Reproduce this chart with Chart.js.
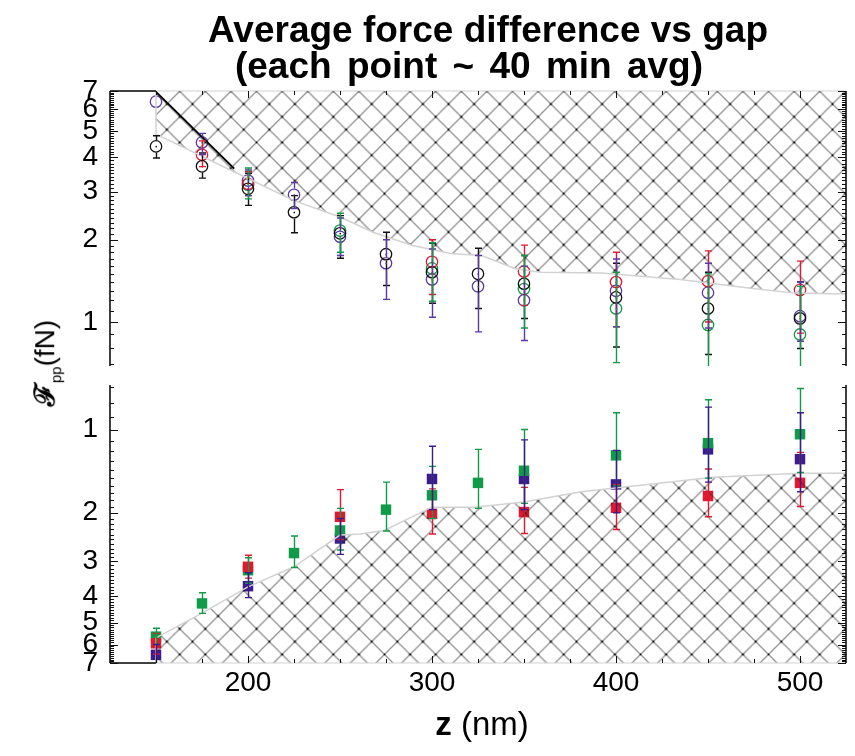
<!DOCTYPE html>
<html>
<head>
<meta charset="utf-8">
<script src="https://cdn.jsdelivr.net/npm/chart.js@4.4.1/dist/chart.umd.min.js"></script>
<style>
  html, body { margin: 0; padding: 0; background: #fff; }
  #wrap { position: relative; width: 855px; height: 756px; overflow: hidden; background: #fff; }
  canvas { position: absolute; left: 0; top: 0; }
  .lbl { position: absolute; white-space: pre; font-family: "Liberation Sans", Arial, sans-serif; color: #000; }
  .title { font-weight: bold; font-size: 37px; line-height: 37px; transform: translateX(-50%); }
  #ylab { left: 44px; top: 363px; font-size: 28px; transform: translate(-50%, -50%) rotate(-90deg); }
  #ylab sub { font-size: 15px; }
  #xlab { left: 482px; top: 724px; font-size: 33px; transform: translate(-50%, -50%); }
</style>
</head>
<body>
<div id="wrap">
  <canvas id="top" width="855" height="756"></canvas>
  <canvas id="bottom" width="855" height="756"></canvas>
  <div class="lbl title" style="left:488px; top:11px;">Average force difference vs gap</div>
  <div class="lbl title" style="left:469px; top:47px; word-spacing:5px;">(each point ~ 40 min avg)</div>
  <div class="lbl" id="ylab"><b>ℱ</b><sub>pp</sub>(fN)</div>
  <div class="lbl" id="xlab"><b>z</b> (nm)</div>
</div>
<script>
// gap z (nm) of every measurement
const gaps = [150, 175, 200, 225, 250, 275, 300, 325, 350, 400, 450, 500];

// upper panel, open circles (fN); Lo / Hi are the error bar ends
const topBlack   = [4.39, 3.71, 3.07, 2.52, 2.11, 1.77, 1.52, 1.50, 1.38, 1.23, 1.12, 1.03];
const topBlackLo = [3.98, 3.36, 2.67, 2.12, 1.71, 1.36, 1.17, 1.12, 1.03, 0.81, 0.76, 0.80];
const topBlackHi = [4.80, 4.15, 3.50, 2.90, 2.45, 2.13, 1.94, 1.86, 1.75, 1.64, 1.52, 1.40];

const topRed   = [null, 4.09, 3.20, null, null, null, 1.66, null, 1.53, 1.40, 1.41, 1.31];
const topRedLo = [null, 3.70, 2.90, null, null, null, 1.26, null, 1.15, 0.96, 1.00, 0.91];
const topRedHi = [null, 4.60, 3.55, null, null, null, 2.00, null, 1.91, 1.80, 1.82, 1.67];

const topPurple   = [6.40, 4.54, 3.29, 2.92, 2.05, 1.64, 1.43, 1.35, 1.20, 1.30, 1.28, 1.05];
const topPurpleLo = [null, 4.10, 2.90, 2.60, 1.75, 1.21, 1.04, 0.92, 0.855, 0.96, 0.95, 0.85];
const topPurpleHi = [null, 4.90, 3.60, 3.24, 2.40, 2.00, 1.85, 1.75, 1.60, 1.70, 1.64, 1.40];

const topGreen   = [null, null, 3.18, null, 2.16, null, 1.57, null, 1.32, 1.12, 0.975, 0.90];
const topGreenLo = [null, null, 2.82, null, 1.80, null, 1.19, null, 0.95, 0.71, 0.69, 0.69];
const topGreenHi = [null, null, 3.66, null, 2.50, null, 1.95, null, 1.75, 1.52, 1.50, 1.35];

// lower panel, filled squares (fN)
const botRed   = [5.94, null, 3.14, null, 2.07, null, 2.02, null, 1.99, 1.92, 1.74, 1.56];
const botRedLo = [5.47, null, 2.85, null, 1.65, null, 1.64, null, 1.62, 1.58, 1.39, 1.21];
const botRedHi = [6.50, null, 3.45, null, 2.50, null, 2.39, null, 2.38, 2.30, 2.07, 1.90];

const botGreen   = [5.62, 4.26, 3.23, 2.80, 2.32, 1.95, 1.73, 1.56, 1.41, 1.24, 1.12, 1.04];
const botGreenLo = [5.24, 3.90, 2.91, 2.43, 1.93, 1.55, 1.36, 1.18, 1.00, 0.87, 0.78, 0.71];
const botGreenHi = [6.00, 4.63, 3.60, 3.16, 2.73, 2.33, 2.10, 1.93, 1.85, 1.60, 1.50, 1.43];

const botPurple   = [6.54, null, 3.69, null, 2.48, null, 1.51, null, 1.51, 1.58, 1.18, 1.28];
const botPurpleLo = [6.00, null, 3.30, null, 2.10, null, 1.15, null, 1.09, 1.19, 0.83, 0.87];
const botPurpleHi = [7.00, null, 4.06, null, 2.83, null, 1.95, null, 1.95, 2.00, 1.55, 1.68];

// edges of the excluded (hatched) regions
const topEdgeX = [150, 150, 200, 225, 250, 268, 289, 310, 327, 345, 359, 392, 435, 472, 497, 525];
const topEdgeY = [7, 4.87, 3.35, 2.78, 2.42, 2.13, 1.91, 1.78, 1.75, 1.57, 1.52, 1.51, 1.43, 1.33, 1.275, 1.265];
const botEdgeX = [150, 150, 175, 200, 225, 250, 261, 274, 300, 323, 350, 381, 453, 500, 525];
const botEdgeY = [7, 5.68, 4.62, 3.71, 3.14, 2.41, 2.39, 2.32, 1.91, 1.91, 1.83, 1.68, 1.49, 1.44, 1.44];
const limitX = [150, 192.5];
const limitY = [6.95, 3.64];

// axes
const xMin = 125, xMax = 525;
const yMin = 0.69, yMax = 7;
const xLabels = [200, 300, 400, 500];
const yLabels = [1, 2, 3, 4, 5, 6, 7];
const xMinor = [150, 175, 200, 225, 250, 275, 300, 325, 350, 375, 400, 425, 450, 475, 500];
const yMinor = [];
for (let i = 7; i <= 70; i++) yMinor.push(i / 10);

const RED = "#e3182f", GREEN = "#119b48", PURPLE = "#5a38a6", DARKPURPLE = "#3c1c8c";
const tickFont = { family: "'Liberation Sans Narrow', 'Liberation Sans', Arial", size: 28 };

const pts = (xs, ys) => xs.map((x, i) => ({ x, y: ys[i] }));

function makeHatch(canvas) {
  const c = document.createElement("canvas");
  c.width = 128;
  c.height = 128;
  const g = c.getContext("2d");
  const s = 25.6;
  g.strokeStyle = "#2a2a2a";
  g.lineWidth = 0.95;
  for (let i = -5; i <= 10; i++) {
    g.beginPath(); g.moveTo(i * s, 0); g.lineTo(i * s + 128, 128); g.stroke();
    g.beginPath(); g.moveTo(i * s, 0); g.lineTo(i * s - 128, 128); g.stroke();
  }
  g.fillStyle = "#000";
  for (let i = 0; i <= 5; i++)
    for (let j = 0; j <= 5; j++) {
      g.fillRect(i * s - 1, j * s - 1, 2, 2);
      g.fillRect(i * s + s / 2 - 1, j * s + s / 2 - 1, 2, 2);
    }
  const p = canvas.getContext("2d").createPattern(c, "repeat");
  p.setTransform(new DOMMatrix([1, 0, 0, 1, 0.5, 14.4]));
  return p;
}

// error bars through the library's scales
const errorBars = {
  id: "errorBars",
  afterDatasetsDraw(chart) {
    const { ctx, chartArea: a, scales: { x, y } } = chart;
    ctx.save();
    ctx.beginPath();
    ctx.rect(a.left, a.top, a.right - a.left, a.bottom - a.top);
    ctx.clip();
    chart.data.datasets.forEach((ds) => {
      if (!ds.errLo) return;
      ctx.strokeStyle = ds.borderColor;
      ctx.lineWidth = 1.4;
      const gap = ds.pointStyle === "circle" ? ds.pointRadius + 0.5 : 0;
      ds.data.forEach((p, j) => {
        if (p.y == null || ds.errLo[j] == null) return;
        const px = Math.round(x.getPixelForValue(p.x)) + 0.5;
        const py = y.getPixelForValue(p.y);
        const e1 = y.getPixelForValue(Math.max(ds.errLo[j], yMin));
        const e2 = y.getPixelForValue(Math.min(ds.errHi[j], yMax));
        const up = Math.min(e1, e2), dn = Math.max(e1, e2);
        ctx.beginPath();
        ctx.moveTo(px, up); ctx.lineTo(px, py - gap);
        ctx.moveTo(px, py + gap); ctx.lineTo(px, dn);
        [[ds.errLo[j], e1], [ds.errHi[j], e2]].forEach(([v, e]) => {
          if (v <= yMin || v >= yMax) return;
          ctx.moveTo(px - 3.5, e); ctx.lineTo(px + 3.5, e);
        });
        ctx.stroke();
        if (gap) {
          ctx.fillStyle = ds.borderColor;
          ctx.fillRect(px - 1, py - 0.5, 1.5, 1.5);
        }
      });
    });
    ctx.restore();
  },
};

// axis frame with inward ticks on all sides
const frame = {
  id: "frame",
  afterDraw(chart, args, opts) {
    const { ctx, chartArea: a, scales: { x, y } } = chart;
    const ey = opts.edge === "top" ? a.top : a.bottom;
    const dir = opts.edge === "top" ? 1 : -1;
    const xs = x.getPixelForValue(150);
    ctx.save();
    ctx.lineWidth = 1.2;
    ctx.strokeStyle = "#d2d2d2";
    ctx.beginPath(); ctx.moveTo(xs, ey); ctx.lineTo(a.right, ey); ctx.stroke();
    ctx.strokeStyle = "#000";
    ctx.lineWidth = 1.5;
    ctx.beginPath(); ctx.moveTo(a.left, ey); ctx.lineTo(xs, ey); ctx.stroke();
    ctx.beginPath();
    ctx.moveTo(a.left, a.top); ctx.lineTo(a.left, a.bottom);
    ctx.moveTo(a.right, a.top); ctx.lineTo(a.right, a.bottom);
    ctx.stroke();
    ctx.lineWidth = 1;
    ctx.strokeStyle = "#111";
    ctx.beginPath();
    yMinor.forEach((v) => {
      const py = Math.round(y.getPixelForValue(v)) + 0.5;
      const len = Math.abs(v - Math.round(v)) < 1e-6 ? 8 : 4;
      ctx.moveTo(a.left, py); ctx.lineTo(a.left + len, py);
      ctx.moveTo(a.right, py); ctx.lineTo(a.right - len, py);
    });
    xMinor.forEach((v) => {
      const px = Math.round(x.getPixelForValue(v)) + 0.5;
      const len = v % 100 === 0 ? 7 : 4;
      ctx.moveTo(px, ey); ctx.lineTo(px, ey + dir * len);
    });
    ctx.stroke();
    ctx.restore();
  },
};

const circle = (label, color, ys, lo, hi) => ({
  type: "scatter", label, data: pts(gaps, ys), errLo: lo, errHi: hi,
  pointStyle: "circle", pointRadius: 5.7, borderWidth: 1.3,
  borderColor: color, backgroundColor: "rgba(0,0,0,0)", order: 2,
});
const square = (label, color, ys, lo, hi) => ({
  type: "scatter", label, data: pts(gaps, ys), errLo: lo, errHi: hi,
  pointStyle: "rect", pointRadius: 7.4, borderWidth: 0,
  borderColor: color, backgroundColor: color, order: 2,
});

const yScale = (reverse) => ({
  type: "logarithmic", min: yMin, max: yMax, reverse, bounds: "data",
  afterBuildTicks: (s) => { s.ticks = yLabels.map((value) => ({ value })); },
  afterFit: (s) => { s.width = 110; },
  ticks: { autoSkip: false, color: "#000", font: tickFont, padding: 4, callback: (v) => String(v) },
  grid: { display: false, drawTicks: true, tickLength: 8 },
  border: { display: false },
});

const common = {
  responsive: false,
  animation: false,
  events: [],
  devicePixelRatio: 1,
  plugins: { legend: { display: false }, tooltip: { enabled: false } },
};

const topCanvas = document.getElementById("top");
new Chart(topCanvas, {
  type: "scatter",
  data: {
    datasets: [
      { type: "line", data: pts(topEdgeX, topEdgeY), borderColor: "#d2d2d2", borderWidth: 1.5,
        pointRadius: 0, fill: { value: yMax }, backgroundColor: makeHatch(topCanvas), order: 0 },
      { type: "line", data: pts(limitX, limitY), borderColor: "#000", borderWidth: 2,
        pointRadius: 0, fill: false, order: 0 },
      circle("black", "#111111", topBlack, topBlackLo, topBlackHi),
      circle("red", RED, topRed, topRedLo, topRedHi),
      circle("purple", PURPLE, topPurple, topPurpleLo, topPurpleHi),
      circle("green", GREEN, topGreen, topGreenLo, topGreenHi),
    ],
  },
  options: {
    ...common,
    layout: { padding: { left: 0, right: 9, top: 91, bottom: 390 } },
    scales: {
      x: { type: "linear", min: xMin, max: xMax, bounds: "data", display: false },
      y: yScale(false),
    },
    plugins: { ...common.plugins, frame: { edge: "top" } },
  },
  plugins: [errorBars, frame],
});

const botCanvas = document.getElementById("bottom");
new Chart(botCanvas, {
  type: "scatter",
  data: {
    datasets: [
      { type: "line", data: pts(botEdgeX, botEdgeY), borderColor: "#d2d2d2", borderWidth: 1.5,
        pointRadius: 0, fill: { value: yMax }, backgroundColor: makeHatch(botCanvas), order: 0 },
      square("red", RED, botRed, botRedLo, botRedHi),
      square("green", GREEN, botGreen, botGreenLo, botGreenHi),
      square("purple", DARKPURPLE, botPurple, botPurpleLo, botPurpleHi),
    ],
  },
  options: {
    ...common,
    layout: { padding: { left: 0, right: 9, top: 385, bottom: 0 } },
    scales: {
      x: {
        type: "linear", min: xMin, max: xMax, bounds: "data",
        afterBuildTicks: (s) => { s.ticks = xLabels.map((value) => ({ value })); },
        afterFit: (s) => { s.height = 93; },
        ticks: { autoSkip: false, maxRotation: 0, color: "#000", font: tickFont, padding: 0, callback: (v) => String(v) },
        grid: { display: false, drawTicks: true, tickLength: 3 },
        border: { display: false },
      },
      y: yScale(true),
    },
    plugins: { ...common.plugins, frame: { edge: "bottom" } },
  },
  plugins: [errorBars, frame],
});
</script>
</body>
</html>
